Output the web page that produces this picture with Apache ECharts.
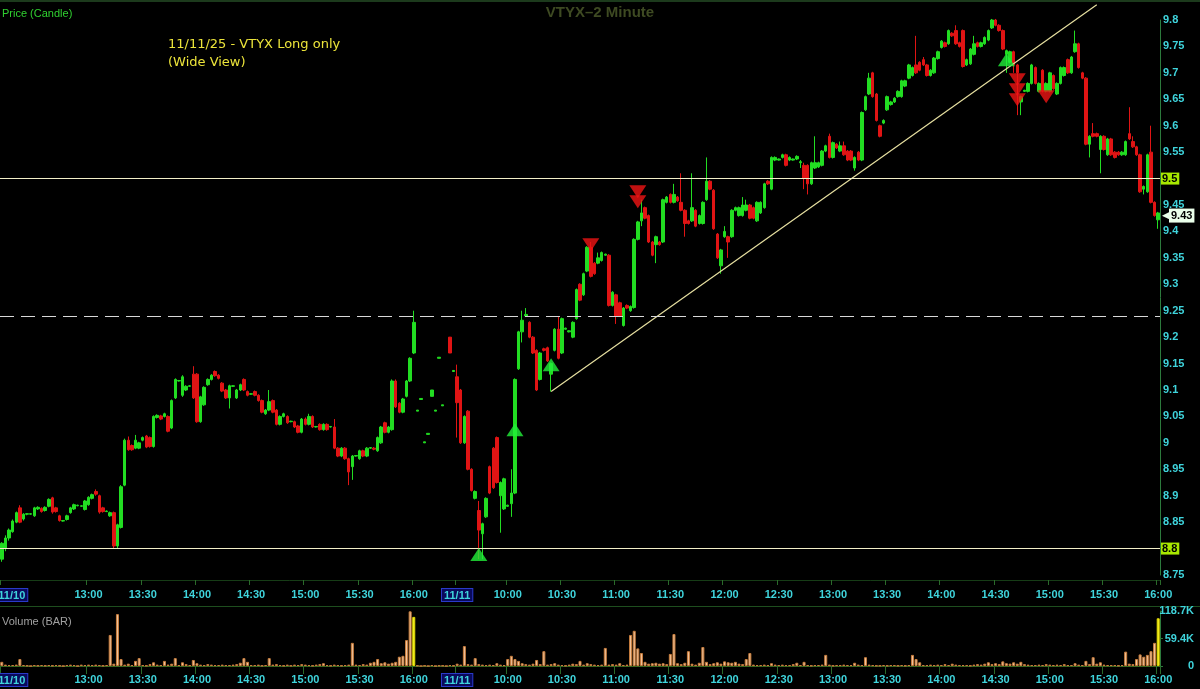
<!DOCTYPE html>
<html><head><meta charset="utf-8">
<script src="https://cdn.jsdelivr.net/npm/echarts@6/dist/echarts.min.js"></script>
<style>html,body{margin:0;padding:0;background:#000;}#c{width:1200px;height:689px;}</style>
</head><body><div id="c"></div>
<script>
// [open, close, low, high]
const day1Candles = [
[8.78,8.81,8.775,8.812],[8.80,8.82,8.795,8.825],[8.82,8.835,8.815,8.838],[8.832,8.852,8.83,8.855],[8.85,8.868,8.848,8.87],
[8.877,8.85,8.848,8.882],[8.856,8.865,8.853,8.867],[8.865,8.866,8.863,8.867],[8.865,8.866,8.864,8.867],[8.862,8.877,8.86,8.879],
[8.875,8.878,8.873,8.88],[8.876,8.87,8.868,8.878],[8.872,8.878,8.87,8.88],[8.88,8.893,8.878,8.895],[8.896,8.869,8.866,8.898],
[8.877,8.87,8.868,8.879],[8.862,8.853,8.851,8.864],[8.852,8.853,8.851,8.854],[8.855,8.862,8.853,8.864],[8.868,8.877,8.866,8.879],
[8.875,8.883,8.873,8.885],[8.881,8.882,8.88,8.883],[8.88,8.881,8.879,8.882],[8.874,8.89,8.872,8.892],[8.883,8.897,8.881,8.899],
[8.895,8.902,8.893,8.904],[8.908,8.903,8.90,8.912],[8.90,8.869,8.866,8.902],[8.877,8.87,8.868,8.879],[8.87,8.871,8.869,8.872],
[8.862,8.868,8.86,8.87],
[8.868,8.805,8.80,8.87],[8.805,8.845,8.80,8.847],[8.84,8.917,8.838,8.92],[8.92,9.005,8.918,9.008],[9.005,8.987,8.985,9.012],
[8.995,8.987,8.985,8.997],[8.99,9.005,8.988,9.015],[8.99,9.0,8.988,9.002],[9.005,9.01,9.003,9.012],[9.013,8.992,8.99,9.015],
[9.01,8.993,8.991,9.012],[8.993,9.05,8.991,9.052],[9.048,9.052,9.046,9.054],[9.051,9.045,9.043,9.053],[9.05,9.055,9.048,9.057],
[9.05,9.022,9.02,9.052],[9.028,9.08,9.026,9.082],[9.085,9.12,9.083,9.122],[9.117,9.118,9.116,9.119],[9.09,9.125,9.087,9.128],
[9.10,9.107,9.098,9.109],[9.107,9.108,9.106,9.109],[9.13,9.085,9.083,9.145],[9.13,9.04,9.038,9.132],[9.04,9.087,9.038,9.089],
[9.072,9.105,9.07,9.107],[9.11,9.12,9.108,9.122],[9.12,9.128,9.118,9.13],[9.135,9.127,9.125,9.137],[9.128,9.122,9.12,9.13],
[9.113,9.098,9.096,9.115],[9.10,9.085,9.083,9.102],[9.085,9.108,9.065,9.11],[9.107,9.108,9.106,9.109],[9.085,9.10,9.083,9.102],
[9.10,9.11,9.098,9.112],[9.12,9.10,9.098,9.122],[9.097,9.09,9.088,9.099],[9.092,9.093,9.091,9.094],[9.097,9.09,9.088,9.099],
[9.09,9.08,9.078,9.092],[9.08,9.058,9.056,9.082],[9.055,9.062,9.053,9.064],[9.062,9.078,9.06,9.10],[9.08,9.058,9.056,9.082],
[9.062,9.035,9.033,9.064],[9.035,9.05,9.033,9.052],[9.05,9.055,9.048,9.057],[9.05,9.038,9.036,9.052],[9.04,9.041,9.039,9.042],
[9.04,9.03,9.028,9.042],[9.032,9.02,9.018,9.034],
[9.02,9.045,9.018,9.047],[9.045,9.035,9.033,9.048],[9.035,9.05,9.033,9.055],[9.05,9.03,9.028,9.052],[9.03,9.031,9.029,9.032],
[9.035,9.025,9.023,9.037],[9.025,9.035,9.023,9.037],[9.035,9.025,9.023,9.037],[9.03,9.031,9.029,9.032],[9.03,8.99,8.988,9.045],
[8.99,8.975,8.973,8.992],[8.975,8.99,8.973,8.992],[8.99,8.97,8.968,8.992],[8.97,8.945,8.92,8.972],[8.955,8.975,8.93,8.977],
[8.975,8.976,8.974,8.977],[8.97,8.985,8.968,8.987],[8.985,8.975,8.973,8.987],[8.975,8.99,8.973,8.992],[8.99,8.991,8.989,8.992],
[8.99,8.988,8.986,8.992],[8.985,9.01,8.983,9.012],[9.0,9.03,8.998,9.032],[9.038,9.02,9.018,9.04],[9.02,9.03,9.018,9.032],
[9.025,9.117,9.023,9.12],[9.117,9.068,9.066,9.12],[9.075,9.058,9.056,9.077],[9.058,9.083,9.056,9.085],[9.088,9.117,9.086,9.119],
[9.117,9.16,9.115,9.162],[9.17,9.228,9.168,9.25]
];
const extCandles = [
[9.06,9.062,9.06,9.062],[9.082,9.084,9.082,9.084],[9.0,9.002,9.0,9.002],[9.016,9.018,9.016,9.018],[9.088,9.10,9.088,9.10],
[9.06,9.062,9.06,9.062],[9.16,9.162,9.16,9.162],[9.07,9.072,9.07,9.072],'-',[9.20,9.17,9.17,9.20],[9.135,9.137,9.135,9.137]
];
const day2Candles = [
[9.125,9.076,9.01,9.148],[9.10,9.0,8.998,9.102],[9.0,9.05,8.998,9.052],[9.06,8.95,8.948,9.062],[8.95,8.91,8.908,8.952],
[8.895,8.908,8.893,8.91],[8.872,8.835,8.78,8.89],[8.828,8.847,8.78,8.849],[8.86,8.895,8.858,8.897],[8.955,8.905,8.903,8.957],
[8.99,8.915,8.913,8.992],[9.01,8.925,8.923,9.012],[8.90,8.925,8.83,8.927],[8.875,8.932,8.873,8.934],[8.88,8.882,8.879,8.883],
[8.885,8.905,8.86,8.95],[8.905,9.12,8.903,9.122],[9.14,9.21,9.138,9.212],[9.21,9.232,9.19,9.25],[9.24,9.243,9.238,9.255],
[9.228,9.20,9.198,9.23],[9.20,9.17,9.168,9.202],[9.175,9.10,9.098,9.177],[9.12,9.17,9.118,9.172],[9.178,9.175,9.173,9.18],
[9.18,9.155,9.153,9.182],[9.13,9.15,9.097,9.152],[9.175,9.215,9.173,9.217],[9.215,9.16,9.158,9.24],[9.17,9.235,9.168,9.237],
[9.215,9.217,9.214,9.218],[9.21,9.212,9.209,9.213],[9.20,9.228,9.198,9.23],[9.235,9.29,9.233,9.292],[9.30,9.27,9.268,9.302],
[9.28,9.32,9.278,9.322],[9.325,9.37,9.323,9.372],[9.37,9.315,9.313,9.38],[9.34,9.32,9.318,9.342],[9.34,9.35,9.338,9.36],
[9.345,9.36,9.343,9.362],[9.355,9.357,9.354,9.358],[9.355,9.26,9.258,9.357],[9.26,9.285,9.258,9.287],[9.28,9.24,9.225,9.282],
[9.265,9.24,9.238,9.267],[9.222,9.255,9.22,9.257],[9.26,9.255,9.253,9.262],[9.25,9.258,9.248,9.26],[9.256,9.385,9.254,9.387],
[9.385,9.418,9.383,9.42],[9.42,9.435,9.41,9.46],[9.445,9.425,9.423,9.447],[9.43,9.38,9.378,9.432],[9.38,9.355,9.353,9.382],
[9.375,9.39,9.34,9.392],[9.38,9.375,9.373,9.382],[9.38,9.46,9.378,9.462],[9.455,9.465,9.453,9.467],[9.47,9.455,9.453,9.472],
[9.455,9.47,9.453,9.49],[9.465,9.458,9.456,9.467],[9.455,9.44,9.438,9.51],[9.44,9.415,9.39,9.442],[9.42,9.415,9.413,9.422],
[9.42,9.445,9.418,9.51],[9.44,9.41,9.408,9.442],[9.415,9.43,9.413,9.432],[9.415,9.455,9.413,9.457],[9.46,9.495,9.458,9.54],
[9.495,9.48,9.478,9.497],[9.478,9.405,9.403,9.48],[9.395,9.35,9.348,9.397],[9.335,9.365,9.32,9.367],[9.39,9.40,9.388,9.41],
[9.39,9.38,9.35,9.392],[9.39,9.44,9.388,9.442],[9.44,9.445,9.438,9.447],[9.43,9.445,9.428,9.447],[9.43,9.45,9.428,9.465],
[9.44,9.45,9.438,9.46],[9.45,9.425,9.423,9.452],[9.445,9.425,9.423,9.447],[9.42,9.455,9.418,9.457],[9.435,9.455,9.433,9.457],
[9.445,9.49,9.443,9.492],[9.495,9.49,9.488,9.497],[9.48,9.54,9.478,9.542],[9.535,9.54,9.533,9.542],[9.535,9.537,9.534,9.538],
[9.54,9.545,9.538,9.547],[9.545,9.525,9.523,9.547],[9.535,9.54,9.533,9.542],[9.535,9.537,9.534,9.538],[9.537,9.542,9.535,9.544],
[9.53,9.532,9.52,9.535],[9.525,9.50,9.48,9.53],[9.525,9.49,9.47,9.527],[9.49,9.53,9.488,9.532],[9.52,9.53,9.518,9.58],
[9.522,9.53,9.52,9.532],[9.525,9.552,9.523,9.554],[9.552,9.562,9.55,9.564],[9.58,9.54,9.538,9.585],[9.54,9.568,9.538,9.57],
[9.565,9.558,9.556,9.567],[9.552,9.562,9.55,9.57],[9.562,9.545,9.543,9.57],[9.552,9.535,9.533,9.554],[9.552,9.535,9.533,9.554],
[9.52,9.54,9.515,9.542],[9.55,9.535,9.533,9.552],[9.535,9.625,9.533,9.627],[9.63,9.655,9.628,9.657],[9.66,9.69,9.658,9.70],
[9.70,9.655,9.653,9.702],[9.66,9.61,9.608,9.662],[9.60,9.58,9.578,9.602],[9.605,9.61,9.603,9.612],[9.63,9.655,9.628,9.657],
[9.64,9.645,9.638,9.647],[9.645,9.652,9.643,9.654],[9.655,9.665,9.653,9.667],[9.655,9.685,9.653,9.687],[9.675,9.685,9.673,9.687],
[9.69,9.715,9.688,9.717],[9.695,9.71,9.693,9.712],[9.715,9.70,9.698,9.77],[9.72,9.705,9.703,9.722],[9.725,9.715,9.713,9.73],
[9.715,9.695,9.693,9.717],[9.695,9.705,9.693,9.707],[9.70,9.728,9.698,9.73],[9.727,9.74,9.725,9.742],[9.748,9.76,9.746,9.762],
[9.757,9.75,9.748,9.759],[9.755,9.78,9.753,9.782],[9.775,9.77,9.768,9.777],[9.78,9.755,9.753,9.79],[9.757,9.75,9.748,9.759],
[9.78,9.712,9.71,9.782],[9.715,9.725,9.713,9.727],[9.717,9.745,9.715,9.747],[9.735,9.755,9.733,9.77],[9.757,9.75,9.748,9.759],
[9.75,9.757,9.748,9.759],[9.755,9.767,9.753,9.769],[9.762,9.78,9.76,9.782],[9.785,9.80,9.783,9.802],[9.80,9.79,9.788,9.802],
[9.79,9.78,9.778,9.792],[9.78,9.745,9.743,9.782],[9.735,9.742,9.70,9.744],[9.72,9.74,9.718,9.742],[9.74,9.715,9.70,9.742],
[9.715,9.70,9.62,9.717],[9.645,9.655,9.62,9.657],[9.665,9.667,9.664,9.668],[9.665,9.68,9.663,9.682],[9.68,9.715,9.678,9.717],
[9.71,9.68,9.678,9.712],[9.665,9.68,9.663,9.682],[9.705,9.665,9.663,9.707],[9.665,9.68,9.663,9.682],[9.665,9.70,9.663,9.702],
[9.695,9.67,9.668,9.697],[9.66,9.68,9.658,9.682],[9.68,9.71,9.678,9.712],[9.695,9.71,9.693,9.712],[9.725,9.70,9.698,9.727],
[9.70,9.73,9.698,9.732],[9.74,9.755,9.738,9.78],[9.755,9.71,9.708,9.757],[9.70,9.69,9.688,9.702],[9.69,9.565,9.563,9.692],
[9.565,9.58,9.54,9.582],[9.585,9.58,9.578,9.605],[9.585,9.58,9.578,9.587],[9.555,9.58,9.51,9.582],[9.58,9.555,9.553,9.582],
[9.545,9.575,9.543,9.577],[9.575,9.545,9.543,9.577],[9.55,9.54,9.538,9.552],[9.55,9.545,9.543,9.552],[9.545,9.55,9.543,9.552],
[9.545,9.57,9.543,9.572],[9.585,9.575,9.573,9.635],[9.57,9.56,9.558,9.58],[9.56,9.545,9.543,9.562],[9.545,9.475,9.473,9.547],
[9.48,9.485,9.47,9.487],[9.475,9.545,9.473,9.547],[9.55,9.455,9.453,9.60],[9.455,9.43,9.428,9.457],[9.422,9.435,9.405,9.437]
];
// volume in thousands of shares
const day1Volume = [9,3,2,2,3,15,2,1,0,2, 1,2,1,2,1,2,1,0,2,3, 2,0,3,2,3,2,3,2,1,2,
 67,5,112,15,3,5,2,11,17,2, 1,4,8,3,2,11,3,5,17,2, 8,4,2,13,6,3,2,4,3,2, 2,3,2,2,3,4,7,17,9,2,
 2,3,1,2,17,3,4,2,1,3, 1,3,2,4,3,2,1,3,4,6, 2,1,3,2,1,2,3,50,3,2, 4,3,7,9,15,6,8,5,7,9, 20,22,56,118,106];
const extVolume = [1,0,1,0,2,0,1,1,0,2,1];
const day2Volume = [5,3,43,4,3,17,4,3,2,3, 2,6,3,2,15,22,15,11,6,4, 3,5,13,4,32,3,4,6,3,2, 1,3,5,4,11,3,6,4,3,2,
 3,39,3,4,3,6,2,3,67,76, 38,28,9,5,6,7,5,6,4,26, 69,6,4,7,32,5,3,7,41,9, 4,6,8,5,10,8,7,9,5,4,
 15,28,3,2,2,3,2,6,3,2, 3,2,2,4,7,2,9,2,1,2, 2,3,24,3,1,2,2,3,2,2, 7,3,2,19,3,2,1,1,2,1,
 2,2,1,2,1,2,24,15,8,2, 2,3,2,3,2,4,2,5,3,2, 2,2,1,3,4,3,5,8,4,6, 4,10,6,5,8,5,9,4,3,2,
 2,3,2,4,3,2,3,2,4,2, 2,6,3,2,11,4,19,5,8,3, 2,2,2,1,2,31,5,4,15,25, 20,24,32,50,103];
const tickMarks = [
 ['11/10 12:12','11/10'],['11/10 13:00','13:00'],['11/10 13:30','13:30'],['11/10 14:00','14:00'],['11/10 14:30','14:30'],
 ['11/10 15:00','15:00'],['11/10 15:30','15:30'],['11/10 16:00','16:00'],
 ['11/11 9:32','11/11'],['11/11 10:00','10:00'],['11/11 10:30','10:30'],['11/11 11:00','11:00'],['11/11 11:30','11:30'],
 ['11/11 12:00','12:00'],['11/11 12:30','12:30'],['11/11 13:00','13:00'],['11/11 13:30','13:30'],['11/11 14:00','14:00'],
 ['11/11 14:30','14:30'],['11/11 15:00','15:00'],['11/11 15:30','15:30'],['11/11 16:00','16:00']
];
const buySignals = [[132,8.789],[142,9.025],[152,9.148],[278,9.725]];
const sellSignals = [[163,9.375],[176,9.475],[176,9.456],[281,9.687],[281,9.668],[281,9.649],[289,9.655]];
const trendLine = [[152,9.097],[303,9.829]];
const supportLevel = 8.8, resistLevel = 9.5, dashedLevel = 9.241, lastPrice = 9.43;
const volMax = 118700;

function hm(t){const h=Math.floor(t/60),m=t%60;return h+':'+(m<10?'0':'')+m;}
const categories=[];
day1Candles.forEach((_,i)=>categories.push('11/10 '+hm(12*60+12+2*i)));
extCandles.forEach((_,i)=>categories.push('ext '+i));
day2Candles.forEach((_,i)=>categories.push('11/11 '+hm(9*60+32+2*i)));
const candles = day1Candles.concat(extCandles, day2Candles);
const lastIdx = [day1Candles.length-1, candles.length-1];
const volumes = day1Volume.concat(extVolume, day2Volume).map((v,i)=>lastIdx.indexOf(i)>=0
  ? {value:v*1000,itemStyle:{color:'#f6f22a',borderColor:'#e0d800'}} : v*1000);
const tickMap = {}; tickMarks.forEach(t=>tickMap[t[0]]=t[1]);
const showTick = (i,v)=>tickMap[v]!==undefined;
const CYAN='#3fd4dc';
const fmtTick = v=>{const t=tickMap[v]; if(t===undefined) return ''; if(t==='11/10') return '{sp|}{d|11/10}'; if(t==='11/11') return '{d|11/11}'; return t;};
const richTick = {sp:{width:20}, d:{color:CYAN,fontWeight:'bold',fontSize:11,fontFamily:'Liberation Sans',backgroundColor:'#0a0a5c',borderColor:'#2a3ac8',borderWidth:1,padding:[1,2,0,2]}};
const axisLabelBase = {color:CYAN,fontWeight:'bold',fontSize:11,fontFamily:'Liberation Sans'};

const chart = echarts.init(document.getElementById('c'));
chart.setOption({
  backgroundColor:'#000',
  animation:false,
  grid:[{left:0,right:40,top:20,height:555,containLabel:false,outerBoundsMode:'none'},
        {left:0,right:40,top:611,height:55,containLabel:false,outerBoundsMode:'none'}],
  xAxis:[
    {type:'category',gridIndex:0,data:categories,boundaryGap:true,offset:5,
     axisLine:{show:true,lineStyle:{color:'#163c16'}},
     axisTick:{show:true,interval:showTick,length:5,lineStyle:{color:'#2a6a2a'}},
     axisLabel:Object.assign({interval:showTick,formatter:fmtTick,rich:richTick,margin:9,hideOverlap:false},axisLabelBase),
     splitLine:{show:false}},
    {type:'category',gridIndex:1,data:categories,boundaryGap:true,
     axisLine:{show:true,lineStyle:{color:'#3a6a20'}},
     axisTick:{show:true,interval:showTick,length:8,lineStyle:{color:'#2a6a2a'}},
     axisLabel:Object.assign({interval:showTick,formatter:fmtTick,rich:richTick,margin:8,hideOverlap:false},axisLabelBase),
     splitLine:{show:false}}
  ],
  yAxis:[
    {type:'value',gridIndex:0,position:'right',min:8.75,max:9.8,interval:0.05,scale:true,
     axisLine:{show:true,lineStyle:{color:'#2c7a3c'}},axisTick:{show:false},splitLine:{show:false},
     axisLabel:Object.assign({margin:3,formatter:v=>{const r=Math.round(v*100)/100; if(Math.abs(r-resistLevel)<1e-6||Math.abs(r-supportLevel)<1e-6) return ''; return String(r);}},axisLabelBase)},
    {type:'value',gridIndex:1,position:'right',min:0,max:volMax,interval:volMax/2,
     axisLine:{show:true,lineStyle:{color:'#2c7a3c'}},axisTick:{show:true,length:3,lineStyle:{color:'#2c7a3c'}},splitLine:{show:false},
     axisLabel:Object.assign({margin:34,align:'right',formatter:v=>v===0?'0':(v/1000).toFixed(1)+'K'},axisLabelBase)}
  ],
  series:[
    {type:'candlestick',xAxisIndex:0,yAxisIndex:0,data:candles,barWidth:3,
     itemStyle:{color:'#22dd22',color0:'#e01414',borderColor:'#22dd22',borderColor0:'#e01414',borderWidth:1},
     markLine:{silent:true,symbol:'none',animation:false,
      data:[
       {yAxis:resistLevel,lineStyle:{color:'#f2eec8',width:1,type:'solid'},
        label:{show:true,position:'end',distance:1,formatter:'9.5',color:'#000',backgroundColor:'#a8e800',padding:[1,2,0,1],fontSize:11,fontWeight:'bold',fontFamily:'Liberation Sans'}},
       {yAxis:supportLevel,lineStyle:{color:'#f2eec8',width:1,type:'solid'},
        label:{show:true,position:'end',distance:1,formatter:'8.8',color:'#000',backgroundColor:'#a8e800',padding:[1,2,0,1],fontSize:11,fontWeight:'bold',fontFamily:'Liberation Sans'}},
       {yAxis:dashedLevel,lineStyle:{color:'#d8d8d8',width:1,type:[14,7]},label:{show:false}},
       {yAxis:lastPrice,lineStyle:{color:'rgba(0,0,0,0)',width:0},
        label:{show:true,position:'end',distance:2,formatter:'{a|◀}{b|9.43}',
         rich:{a:{color:'#eaffea',fontSize:13,padding:[0,-3,0,0]},b:{backgroundColor:'#eaffea',color:'#000',fontSize:11,fontWeight:'bold',fontFamily:'Liberation Sans',padding:[2,2,1,2]}}}}
      ]}},
    {type:'line',xAxisIndex:0,yAxisIndex:0,data:trendLine,symbol:'none',clip:false,
     lineStyle:{color:'#e6dfa0',width:1.2},z:3},
    {type:'scatter',xAxisIndex:0,yAxisIndex:0,data:buySignals,symbol:'triangle',symbolSize:[17,13],
     itemStyle:{color:'#22f03a'},z:5},
    {type:'scatter',xAxisIndex:0,yAxisIndex:0,data:sellSignals,symbol:'triangle',symbolRotate:180,symbolSize:[17,13],
     itemStyle:{color:'#f01414'},z:5},
    {type:'bar',xAxisIndex:1,yAxisIndex:1,data:volumes,barWidth:3,
     itemStyle:{color:'#f2c6a0',borderColor:'#c87d3c',borderWidth:1}}
  ],
  graphic:[
    {type:'rect',shape:{x:0,y:0,width:1200,height:2},style:{fill:'#1c3a1c'},silent:true},
    {type:'line',shape:{x1:0,y1:606.5,x2:1200,y2:606.5},style:{stroke:'#1e4e1e',lineWidth:1},silent:true},
    {type:'text',x:2,y:14,style:{text:'Price (Candle)',fill:'#30d030',font:'11px "Liberation Sans"',textVerticalAlign:'middle'}},
    {type:'text',x:600,y:13,style:{text:'VTYX–2 Minute',fill:'#3e4a22',font:'bold 15px "Liberation Sans"',textAlign:'center',textVerticalAlign:'middle'}},
    {type:'text',x:168,y:45,style:{text:'11/11/25 - VTYX Long only',fill:'#ece43a',font:'13px "DejaVu Sans"',textVerticalAlign:'middle'}},
    {type:'text',x:168,y:63,style:{text:'(Wide View)',fill:'#ece43a',font:'13px "DejaVu Sans"',textVerticalAlign:'middle'}},
    {type:'text',x:2,y:622,style:{text:'Volume (BAR)',fill:'#a0a0a0',font:'11px "Liberation Sans"',textVerticalAlign:'middle'}}
  ]
});
</script></body></html>
